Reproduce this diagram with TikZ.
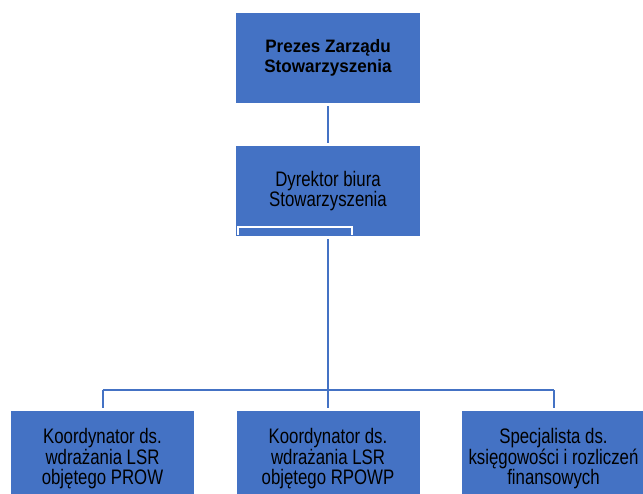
\documentclass[tikz,border=0pt]{standalone}
\usepackage{fontspec}
\setmainfont[FakeStretch=0.8,BoldFeatures={FakeStretch=0.95}]{Liberation Sans}
\definecolor{boxblue}{HTML}{4472C4}
\begin{document}
\begin{tikzpicture}[x=1pt,y=-1pt,
  orgbox/.style={fill=boxblue, draw=none, minimum width=184pt, inner sep=0pt, align=center,
    font=\fontsize{21}{20.5}\selectfont, text=black},
  conn/.style={draw=boxblue, line width=2pt}]
\useasboundingbox (0,0) rectangle (643,493);
\clip (0,0) rectangle (643,493);
\node[orgbox, minimum height=90pt, font=\fontsize{18}{20}\selectfont\bfseries] (p) at (328,58) {Prezes Zarządu\\Stowarzyszenia};
\node[orgbox, minimum height=90pt] (d) at (328,191) {Dyrektor biura\\Stowarzyszenia};
\draw[white, line width=2pt] (238,235) -- (238,227) -- (352,227) -- (352,235);
\node[orgbox, minimum height=96pt, minimum width=183pt] (k1) at (102.5,459) {Koordynator ds.\\wdrażania LSR\\objętego PROW};
\node[orgbox, minimum height=96pt, minimum width=183pt] (k2) at (328,459) {Koordynator ds.\\wdrażania LSR\\objętego RPOWP};
\node[orgbox, minimum height=96pt, minimum width=183pt] (k3) at (553.5,459) {Specjalista ds.\\księgowości i rozliczeń\\finansowych};
\coordinate (bar) at (328,390);
\draw[conn, shorten <=3pt, shorten >=3pt] (p.south) -- (d.north);
\draw[conn, shorten <=3pt] (d.south) -- (d.south |- bar);
\draw[conn] (k1.north |- bar) -- (k3.north |- bar);
\draw[conn, shorten >=3pt] (k1.north |- bar) -- (k1.north);
\draw[conn, shorten >=3pt] (k2.north |- bar) -- (k2.north);
\draw[conn, shorten >=3pt] (k3.north |- bar) -- (k3.north);
\end{tikzpicture}
\end{document}
